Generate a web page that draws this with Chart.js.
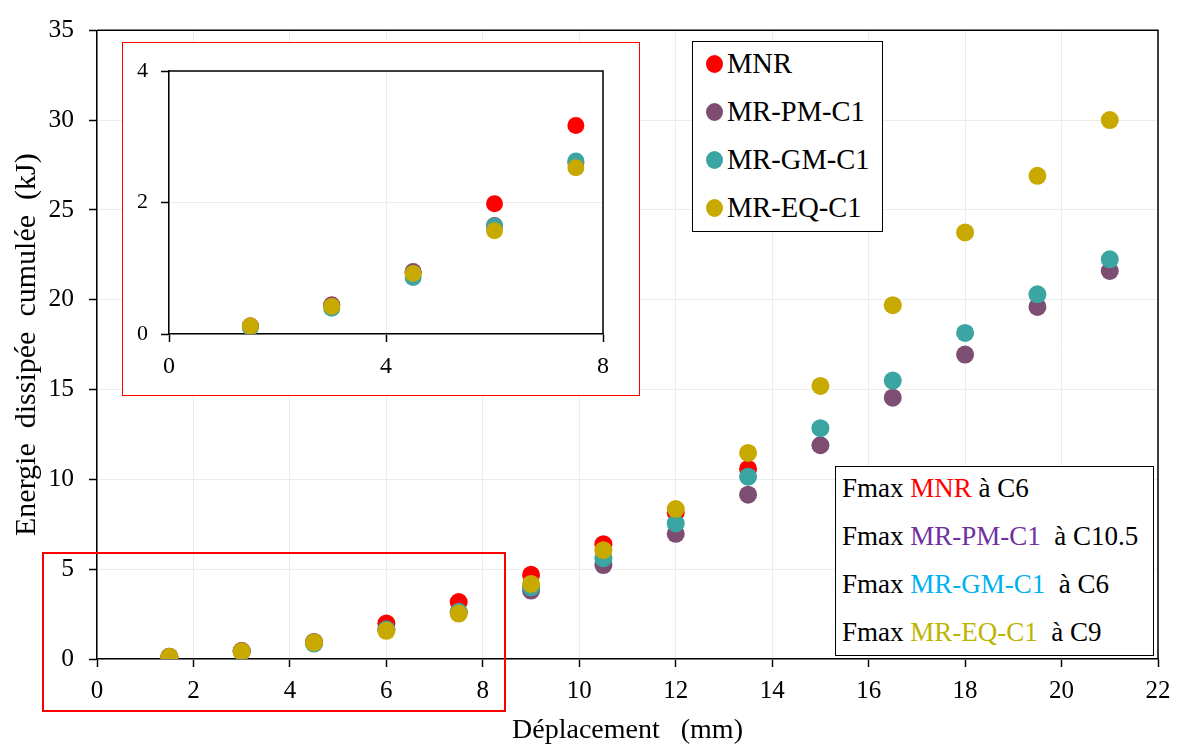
<!DOCTYPE html>
<html>
<head>
<meta charset="utf-8">
<script src="https://cdn.jsdelivr.net/npm/chart.js@4.4.1/dist/chart.umd.min.js"></script>
<style>
  html, body { margin: 0; padding: 0; background: #fff; }
  body { width: 1180px; height: 747px; position: relative; overflow: hidden; font-family: 'Liberation Serif', 'Times New Roman', serif; }
  #main { position: absolute; left: 0; top: 0; }
  #inset-box { position: absolute; left: 122px; top: 42px; width: 518px; height: 354px; box-sizing: border-box; border: 1.5px solid #ff0000; background: #fff; }
  #inset { position: absolute; left: 124px; top: 44px; }
  #zoom-rect { position: absolute; left: 42px; top: 552px; width: 464px; height: 160px; box-sizing: border-box; border: 2px solid #ff0000; pointer-events: none; }
  #legend { position: absolute; left: 692px; top: 41px; width: 191px; height: 191px; box-sizing: border-box; border: 1.5px solid #000; background: #fff; }
  .leg-row { position: absolute; left: 0; height: 32px; line-height: 32px; font-size: 28.5px; color: #000; white-space: nowrap; }
  .leg-dot { position: absolute; left: 13px; top: 7px; width: 17px; height: 18px; border-radius: 50%; }
  .leg-text { position: absolute; left: 34px; top: 0; }
  #notes { position: absolute; left: 835px; top: 466px; width: 319px; height: 190px; box-sizing: border-box; border: 1.5px solid #000; background: #fff; }
  .note-row { position: absolute; left: 6px; height: 30px; line-height: 30px; font-size: 27px; color: #000; white-space: pre; }
</style>
</head>
<body>
<canvas id="main" width="1180" height="747"></canvas>
<div id="inset-box"></div>
<canvas id="inset" width="514" height="350"></canvas>
<div id="zoom-rect"></div>
<div id="legend"></div>
<div id="notes"></div>
<script>
const displacement = [1.5, 3, 4.5, 6, 7.5, 9, 10.5, 12, 13.5, 15, 16.5, 18, 19.5, 21];
const mnrEnergy = [0.12, 0.44, 0.93, 1.98, 3.17, 4.69, 6.39, 8.15, 10.58];
const pmEnergy = [0.12, 0.44, 0.95, 1.65, 2.6, 3.81, 5.23, 6.97, 9.15, 11.9, 14.55, 16.95, 19.6, 21.6];
const gmEnergy = [0.1, 0.39, 0.86, 1.64, 2.63, 3.99, 5.61, 7.55, 10.15, 12.85, 15.5, 18.15, 20.3, 22.25];
const eqEnergy = [0.12, 0.42, 0.92, 1.57, 2.53, 4.18, 6.06, 8.35, 11.47, 15.2, 19.7, 23.75, 26.9, 30.0];

const seriesNames = ['MNR', 'MR-PM-C1', 'MR-GM-C1', 'MR-EQ-C1'];
const seriesColors = ['#ff0000', '#7e4d72', '#3aa5a2', '#c8a900'];
const noteColors = ['#ff0000', '#7030a0', '#00b0f0', '#bdb400'];
const fmaxCycles = ['C6', 'C10.5', 'C6', 'C9'];

const FONT = "'Liberation Serif', 'Times New Roman', serif";

function toPoints(values, maxX) {
  const pts = [];
  values.forEach((v, i) => {
    if (maxX === undefined || displacement[i] <= maxX) pts.push({ x: displacement[i], y: v });
  });
  return pts;
}

function makeDatasets(radius, maxX) {
  const all = [mnrEnergy, pmEnergy, gmEnergy, eqEnergy];
  return all.map((values, i) => ({
    label: seriesNames[i],
    data: toPoints(values, maxX),
    backgroundColor: seriesColors[i],
    borderWidth: 0,
    pointRadius: radius,
    pointHoverRadius: radius,
    order: 3 - i,
  }));
}

// top and right edges of the plot box
const frameLines = {
  id: 'frameLines',
  afterDraw(chart) {
    const { ctx, chartArea } = chart;
    ctx.save();
    ctx.strokeStyle = '#000';
    ctx.lineWidth = 1.5;
    ctx.beginPath();
    ctx.moveTo(chartArea.left, chartArea.top);
    ctx.lineTo(chartArea.right, chartArea.top);
    ctx.lineTo(chartArea.right, chartArea.bottom);
    ctx.stroke();
    ctx.restore();
  },
};

function axis(opts) {
  return {
    type: 'linear',
    min: opts.min,
    max: opts.max,
    ticks: {
      stepSize: opts.step,
      color: '#000',
      font: { family: FONT, size: opts.fontSize },
      padding: opts.padding,
    },
    grid: { color: '#ececec', lineWidth: 1, tickColor: '#000', tickLength: 8, tickWidth: 1.5 },
    border: { color: '#000', width: 1.5 },
    title: opts.title || { display: false },
    afterFit: opts.fit,
  };
}

new Chart(document.getElementById('main'), {
  type: 'scatter',
  data: { datasets: makeDatasets(9) },
  options: {
    responsive: false,
    animation: false,
    layout: { padding: { top: 25, right: 22, left: 0, bottom: 0 } },
    plugins: { legend: { display: false }, tooltip: { enabled: false } },
    scales: {
      x: axis({
        min: 0, max: 22, step: 2, fontSize: 25, padding: 9,
        title: { display: true, text: 'Déplacement   (mm)', color: '#000', font: { family: FONT, size: 28 }, padding: { top: 0, bottom: 0 } },
        fit: (s) => { s.height = 88; },
      }),
      y: axis({
        min: 0, max: 35, step: 5, fontSize: 25.5, padding: 15,
        title: { display: true, text: 'Energie  dissipée  cumulée  (kJ)', color: '#000', font: { family: FONT, size: 30 }, padding: { top: 9, bottom: 0 } },
        fit: (s) => { s.width = 97; },
      }),
    },
  },
  plugins: [frameLines],
});

new Chart(document.getElementById('inset'), {
  type: 'scatter',
  data: { datasets: makeDatasets(8.5, 8) },
  options: {
    responsive: false,
    animation: false,
    layout: { padding: { top: 27, right: 35, left: 0, bottom: 0 } },
    plugins: { legend: { display: false }, tooltip: { enabled: false } },
    scales: {
      x: axis({ min: 0, max: 8, step: 4, fontSize: 24, padding: 10, fit: (s) => { s.height = 60; } }),
      y: axis({ min: 0, max: 4, step: 2, fontSize: 22, padding: 13, fit: (s) => { s.width = 45; } }),
    },
  },
  plugins: [frameLines],
});

const legendEl = document.getElementById('legend');
seriesNames.forEach((name, i) => {
  const row = document.createElement('div');
  row.className = 'leg-row';
  row.style.top = (5.5 + i * 48.3) + 'px';
  row.innerHTML = `<span class="leg-dot" style="background:${seriesColors[i]}"></span><span class="leg-text">${name}</span>`;
  legendEl.appendChild(row);
});

const notesEl = document.getElementById('notes');
seriesNames.forEach((name, i) => {
  const row = document.createElement('div');
  row.className = 'note-row';
  row.style.top = (5.5 + i * 48) + 'px';
  const gap = i === 0 ? ' ' : '  ';
  row.innerHTML = `Fmax <span style="color:${noteColors[i]}">${name}</span>${gap}à ${fmaxCycles[i]}`;
  notesEl.appendChild(row);
});
</script>
</body>
</html>
